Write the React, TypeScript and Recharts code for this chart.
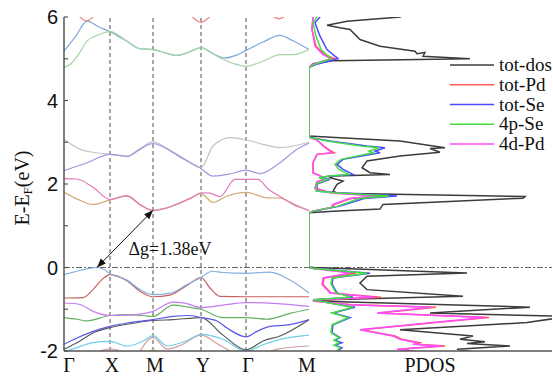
import React from "react";
import { LineChart, Line, XAxis, YAxis, ReferenceLine, ReferenceDot, Legend } from "recharts";

type Pt = [number, number];

// high-symmetry path (k in path-length units)
const kTicks = [0, 46, 89, 137, 182, 245];
const kLabels = ["Γ", "X", "M", "Y", "Γ", "M"];
const eTicks = [-2, -1, 0, 1, 2, 3, 4, 5, 6];
const eLabelTicks = [-2, 0, 2, 4, 6];
const gapVBM: Pt = [33, 0];
const gapCBM: Pt = [89, 1.37];
const gapText = "Δg=1.38eV";

// ---- band structure: [k, E] ----
const cbTopBlue: Pt[] = [[0,5.18],[12,5.55],[23,5.9],[35,5.76],[46,5.65],[63,5.42],[76,5.24],[89,5.22],[100,5.15],[113,5.08],[125,5.16],[137,5.27],[149,5.12],[161,5.02],[172,5.08],[182,5.2],[199,5.4],[216,5.56],[229,5.43],[245,5.22]];
const cbTopGreen: Pt[] = [[0,4.8],[7,4.88],[13,5.05],[23,5.42],[35,5.58],[46,5.65],[63,5.42],[76,5.24],[89,5.22],[100,5.15],[113,5.08],[125,5.16],[137,5.26],[156,5.02],[170,4.88],[182,4.82],[199,4.94],[216,5.1],[229,5.1],[245,5.22]];
const cbArc1: Pt[] = [[10,6.15],[16,6.0],[22,5.91],[28,5.98],[32,6.1]];
const cbArc2: Pt[] = [[124,6.12],[131,5.95],[137,5.87],[143,5.95],[150,6.12]];
const cbArc3: Pt[] = [[207,6.06],[211,5.99],[215,5.96],[219,5.99],[222,6.06]];
const cbGray: Pt[] = [[0,3.07],[16,2.83],[29,2.76],[46,2.71],[63,2.67],[76,2.85],[89,3.01],[102,2.87],[116,2.67],[137,2.39],[149,2.91],[166,3.11],[182,3.06],[199,2.95],[216,2.87],[245,3.0]];
const cbLav: Pt[] = [[0,2.32],[23,2.51],[46,2.71],[63,2.66],[76,2.83],[89,2.97],[102,2.85],[116,2.65],[137,2.37],[149,2.19],[166,2.24],[182,2.33],[196,2.25],[216,2.51],[233,2.83],[245,2.98]];
const cbPink: Pt[] = [[0,2.13],[13,2.12],[29,1.92],[46,1.63],[63,1.72],[76,1.51],[89,1.37],[101,1.42],[116,1.55],[128,1.68],[137,1.79],[146,1.78],[156,1.7],[171,2.11],[194,2.11],[204,1.88],[216,1.7],[229,1.51],[245,1.37]];
const cbTan: Pt[] = [[0,1.8],[15,1.62],[29,1.51],[46,1.62],[63,1.71],[76,1.5],[89,1.36],[101,1.41],[116,1.54],[128,1.67],[137,1.77],[149,1.56],[162,1.7],[182,1.8],[203,1.67],[216,1.66],[230,1.52],[245,1.36]];

const vb1: Pt[] = [[0,-0.17],[13,-0.09],[25,-0.02],[33,0.0],[40,-0.05],[46,-0.15],[63,-0.3],[76,-0.53],[89,-0.65],[106,-0.62],[123,-0.41],[137,-0.24],[148,-0.09],[159,-0.12],[182,-0.14],[206,-0.11],[226,-0.3],[245,-0.61]];
const vb2: Pt[] = [[0,-0.73],[19,-0.72],[29,-0.53],[38,-0.29],[46,-0.17],[63,-0.32],[76,-0.57],[89,-0.7],[106,-0.66],[123,-0.43],[137,-0.24],[146,-0.49],[156,-0.69],[182,-0.7],[245,-0.7]];
const vb3: Pt[] = [[0,-0.85],[15,-0.88],[29,-1.05],[46,-1.15],[65,-1.14],[89,-1.05],[109,-0.83],[122,-0.86],[137,-0.96],[159,-0.9],[182,-0.84],[210,-0.86],[245,-0.93]];
const vb4: Pt[] = [[0,-1.2],[13,-1.24],[23,-1.28],[46,-1.15],[65,-1.13],[89,-1.17],[109,-0.9],[125,-0.95],[137,-1.0],[159,-1.2],[182,-1.2],[203,-1.24],[226,-1.1],[245,-1.0]];
const vb5: Pt[] = [[0,-1.84],[13,-1.69],[29,-1.53],[46,-1.41],[63,-1.33],[89,-1.25],[109,-1.17],[126,-1.15],[137,-1.2],[153,-1.28],[163,-1.45],[182,-1.66],[193,-1.53],[206,-1.41],[226,-1.37],[245,-1.25]];
const vb6: Pt[] = [[0,-1.96],[16,-1.76],[29,-1.57],[46,-1.44],[63,-1.36],[89,-1.27],[109,-1.25],[137,-1.2],[159,-1.62],[182,-1.97],[199,-1.76],[216,-1.64],[245,-1.25]];
const vb7: Pt[] = [[0,-2.02],[15,-1.9],[29,-1.8],[46,-1.77],[63,-1.88],[80,-1.75],[89,-1.63],[103,-1.88],[123,-1.75],[137,-1.6],[159,-1.72],[182,-2.0],[199,-1.85],[216,-1.72],[245,-1.62]];
const vb8a: Pt[] = [[25,-2.12],[46,-1.95],[67,-2.12]];
const vb8b: Pt[] = [[75,-2.05],[89,-1.68],[103,-1.95],[118,-1.85],[137,-1.62],[155,-1.85],[170,-2.05]];
const vb8c: Pt[] = [[195,-2.1],[215,-1.95],[245,-1.88]];
const vb9: Pt[] = [[80,-2.06],[89,-1.98],[98,-2.06]];

const bands = [
  { id: "c1", color: "#7fa7d6", pts: cbTopBlue },
  { id: "c2", color: "#a3d6a3", pts: cbTopGreen },
  { id: "c3", color: "#f07a7a", pts: cbArc1 },
  { id: "c4", color: "#f07a7a", pts: cbArc2 },
  { id: "c5", color: "#f07a7a", pts: cbArc3 },
  { id: "c6", color: "#c2c2c2", pts: cbGray },
  { id: "c7", color: "#9a9ae0", pts: cbLav },
  { id: "c8", color: "#d4aa78", pts: cbTan },
  { id: "c9", color: "#e07ab8", pts: cbPink },
  { id: "v9", color: "#d8d070", pts: vb9 },
  { id: "v8a", color: "#d4a0a0", pts: vb8a },
  { id: "v8b", color: "#d4a0a0", pts: vb8b },
  { id: "v8c", color: "#d4a0a0", pts: vb8c },
  { id: "v7", color: "#6fcfe6", pts: vb7 },
  { id: "v6", color: "#5a5a5a", pts: vb6 },
  { id: "v5", color: "#5a5ae8", pts: vb5 },
  { id: "v4", color: "#60b060", pts: vb4 },
  { id: "v3", color: "#c47cf2", pts: vb3 },
  { id: "v2", color: "#c86060", pts: vb2 },
  { id: "v1", color: "#85b0e0", pts: vb1 },
];

// ---- PDOS: [E, dos] ----
const totDos: Pt[] = [[6.1,100],[6.0,91],[5.9,38],[5.8,18],[5.74,31],[5.7,41],[5.46,51],[5.3,71],[5.18,106],[5.12,108],[5.15,116],[5.06,114],[5.0,161],[4.95,24],[4.88,4],[4.79,0],[3.15,0],[3.11,31],[3.03,91],[2.87,136],[2.85,121],[2.76,131],[2.67,91],[2.55,58],[2.39,53],[2.27,61],[2.23,81],[2.19,24],[2.15,21],[2.07,34],[1.99,28],[1.83,24],[1.78,28],[1.7,216],[1.66,214],[1.51,74],[1.4,71],[1.35,24],[1.31,0],[0.01,0],[0.0,5],[-0.13,158],[-0.21,58],[-0.37,51],[-0.53,58],[-0.69,154],[-0.77,18],[-0.8,4],[-0.95,221],[-1.09,121],[-1.17,260],[-1.32,218],[-1.49,91],[-1.64,164],[-1.72,151],[-1.78,176],[-1.82,158],[-1.88,201],[-1.96,148],[-2.02,164]];
const totPd: Pt[] = [[6.1,5],[6.02,4],[5.7,3],[5.3,7],[5.1,16],[5.0,26],[4.87,4],[4.79,0],[3.12,0],[3.05,8],[2.99,11],[2.91,15],[2.79,22],[2.75,25],[2.71,8],[2.51,4],[2.27,4],[2.19,12],[2.11,15],[2.05,8],[1.9,6],[1.79,22],[1.71,72],[1.65,42],[1.51,25],[1.44,23],[1.35,4],[1.31,0],[0.0,0],[-0.02,3],[-0.13,47],[-0.25,15],[-0.41,14],[-0.61,22],[-0.71,72],[-0.77,8],[-0.8,4],[-0.89,43],[-0.95,127],[-1.09,70],[-1.2,180],[-1.32,127],[-1.49,52],[-1.64,86],[-1.72,93],[-1.8,111],[-1.84,106],[-1.88,136],[-1.96,90],[-2.02,111]];
const pd4d: Pt[] = [[6.1,4],[6.02,4],[5.7,3],[5.3,6],[5.1,14],[5.0,22],[4.87,4],[4.79,0],[3.12,0],[3.05,8],[2.99,11],[2.91,14],[2.79,21],[2.75,23],[2.71,8],[2.51,4],[2.27,4],[2.19,11],[2.11,14],[2.05,8],[1.9,6],[1.79,21],[1.71,66],[1.65,40],[1.51,24],[1.44,22],[1.35,4],[1.31,0],[0.0,0],[-0.02,3],[-0.13,41],[-0.25,14],[-0.41,13],[-0.61,21],[-0.71,66],[-0.77,8],[-0.8,4],[-0.89,41],[-0.95,122],[-1.09,68],[-1.2,176],[-1.32,124],[-1.49,51],[-1.64,84],[-1.72,91],[-1.8,108],[-1.84,104],[-1.88,132],[-1.96,88],[-2.02,108]];
const totSe: Pt[] = [[6.1,12],[6.0,11],[5.86,6],[5.54,11],[5.22,18],[5.0,29],[4.87,8],[4.79,0],[3.12,0],[3.03,21],[2.91,58],[2.87,76],[2.79,66],[2.75,71],[2.59,34],[2.47,28],[2.35,34],[2.23,44],[2.19,21],[2.15,11],[2.11,21],[2.0,8],[1.83,8],[1.79,28],[1.71,88],[1.65,55],[1.47,31],[1.35,4],[1.31,0],[0.0,0],[-0.02,3],[-0.14,61],[-0.25,24],[-0.4,23],[-0.61,28],[-0.71,44],[-0.77,4],[-0.85,21],[-0.95,46],[-1.09,24],[-1.2,41],[-1.37,24],[-1.56,23],[-1.68,31],[-1.74,26],[-1.8,33],[-1.86,26],[-1.92,33],[-2.02,28]];
const se4p: Pt[] = [[6.1,9],[6.0,8],[5.86,4],[5.54,7],[5.22,12],[5.0,22],[4.87,6],[4.79,0],[3.12,0],[3.03,18],[2.91,52],[2.87,70],[2.79,60],[2.75,64],[2.59,32],[2.47,26],[2.35,30],[2.23,40],[2.19,20],[2.15,10],[2.11,18],[2.0,7],[1.83,7],[1.79,26],[1.71,80],[1.65,50],[1.47,29],[1.35,4],[1.31,0],[0.0,0],[-0.02,3],[-0.14,58],[-0.25,23],[-0.4,22],[-0.61,27],[-0.71,42],[-0.77,4],[-0.85,20],[-0.95,44],[-1.09,23],[-1.2,39],[-1.37,23],[-1.56,22],[-1.68,30],[-1.74,25],[-1.8,30],[-1.86,25],[-1.92,31],[-2.02,27]];

const dosSeries = [
  { name: "tot-dos", color: "#3c3c3c", pts: totDos },
  { name: "tot-Pd", color: "#ff5a5a", pts: totPd },
  { name: "tot-Se", color: "#4a4aff", pts: totSe },
  { name: "4d-Pd", color: "#ff4cff", pts: pd4d },
  { name: "4p-Se", color: "#44dd44", pts: se4p },
];
const legendOrder = ["tot-dos", "tot-Pd", "tot-Se", "4p-Se", "4d-Pd"];

const AX = "#555";
const SERIF = "'Liberation Serif', 'Times New Roman', serif";
const SANS = "'Liberation Sans', Arial, sans-serif";

const LeftTick = (p: any) =>
  eLabelTicks.includes(p.payload.value) ? (
    <text x={p.x} y={p.y} dy={7} textAnchor="end" fontSize={20} fontFamily={SANS} fill="#111">
      {p.payload.value}
    </text>
  ) : (
    <g />
  );

const KTick = (p: any) => {
  const i = kTicks.indexOf(p.payload.value);
  const shift = i === 0 ? 5 : i === kTicks.length - 1 ? -2 : 2;
  return (
    <text x={p.x + shift} y={372} textAnchor="middle" fontSize={20} fontFamily={SERIF} fill="#111">
      {kLabels[i]}
    </text>
  );
};

const PdosTick = (p: any) => (
  <text x={p.x} y={372} textAnchor="middle" fontSize={20} fontFamily={SERIF} fill="#111">
    PDOS
  </text>
);

const Empty = () => <g />;

const ArrowShape = (p: any) => {
  const { x1, y1, x2, y2 } = p;
  const dx = x2 - x1, dy = y2 - y1;
  const L = Math.sqrt(dx * dx + dy * dy) || 1;
  const ux = dx / L, uy = dy / L;
  const h = 9, w = 3.5;
  const head = (tx: number, ty: number, s: number) =>
    `${tx},${ty} ${tx - s * ux * h - uy * w},${ty - s * uy * h + ux * w} ${tx - s * ux * h + uy * w},${ty - s * uy * h - ux * w}`;
  return (
    <g>
      <line x1={x1} y1={y1} x2={x2} y2={y2} stroke="#111" strokeWidth={1} />
      <polygon points={head(x2, y2, 1)} fill="#111" />
      <polygon points={head(x1, y1, -1)} fill="#111" />
    </g>
  );
};

const GapLabel = (p: any) => (
  <text x={p.cx} y={p.cy} textAnchor="middle" fontSize={18} fontFamily={SERIF} fill="#111">
    {gapText}
  </text>
);

const LegendBox = () => (
  <svg width={103} height={100}>
    {legendOrder.map((n, i) => {
      const s = dosSeries.find((d) => d.name === n)!;
      const y = 10 + i * 19.75;
      return (
        <g key={n}>
          <line x1={0} x2={44} y1={y} y2={y} stroke={s.color} strokeWidth={1.5} />
          <text x={49} y={y + 6} fontSize={19} fontFamily={SERIF} fill="#111">
            {n}
          </text>
        </g>
      );
    })}
  </svg>
);

export default function App() {
  return (
    <div style={{ position: "absolute", left: 0, top: 0, width: 553, height: 376, background: "#fff", overflow: "hidden" }}>
      <svg style={{ position: "absolute", left: 0, top: 0 }} width={60} height={376}>
        <text
          x={22}
          y={188}
          transform="rotate(-90 22 188)"
          textAnchor="middle"
          dominantBaseline="central"
          fontSize={20}
          fontFamily={SERIF}
          fill="#111"
        >
          E-E<tspan fontSize={13} dy={5}>F</tspan>
          <tspan dy={-5}>(eV)</tspan>
        </text>
      </svg>

      <div style={{ position: "absolute", left: 0, top: 0 }}>
        <LineChart width={330} height={376} margin={{ top: 17, right: 21, bottom: 0, left: 0 }}>
          <XAxis
            xAxisId="b"
            dataKey="k"
            type="number"
            domain={[0, 245]}
            ticks={kTicks}
            allowDataOverflow
            height={25}
            tickLine={false}
            tick={KTick}
            axisLine={{ stroke: AX, strokeWidth: 1.5 }}
          />
          <XAxis
            xAxisId="t"
            dataKey="k"
            orientation="top"
            type="number"
            domain={[0, 245]}
            allowDataOverflow
            height={0}
            tickLine={false}
            tick={false}
            axisLine={{ stroke: AX, strokeWidth: 1.5 }}
          />
          <YAxis
            yAxisId="l"
            type="number"
            domain={[-2, 6]}
            ticks={eTicks}
            allowDataOverflow
            width={64}
            tickSize={-4}
            tickMargin={10}
            tick={LeftTick}
            tickLine={{ stroke: AX, strokeWidth: 1.2 }}
            axisLine={{ stroke: AX, strokeWidth: 1.5 }}
          />
          <YAxis
            yAxisId="r"
            orientation="right"
            type="number"
            domain={[-2, 6]}
            ticks={eTicks}
            allowDataOverflow
            width={0}
            tickSize={4}
            tick={Empty}
            tickLine={{ stroke: AX, strokeWidth: 1.2 }}
            axisLine={{ stroke: AX, strokeWidth: 1.5 }}
          />
          {kTicks.slice(1, 5).map((k) => (
            <ReferenceLine key={k} x={k} xAxisId="b" yAxisId="l" stroke="#777" strokeWidth={1.3} strokeDasharray="4 3" />
          ))}
          <ReferenceLine y={0} xAxisId="b" yAxisId="l" stroke="#666" strokeWidth={1.2} strokeDasharray="6 2 2 2" />
          {bands.map((b) => (
            <Line
              key={b.id}
              xAxisId="b"
              yAxisId="l"
              data={b.pts.map(([k, e]) => ({ k, e }))}
              dataKey="e"
              type="monotone"
              stroke={b.color}
              strokeWidth={1.2}
              dot={false}
              activeDot={false}
              isAnimationActive={false}
            />
          ))}
          <ReferenceLine
            xAxisId="b"
            yAxisId="l"
            segment={[
              { x: gapVBM[0], y: gapVBM[1] },
              { x: gapCBM[0], y: gapCBM[1] },
            ]}
            shape={ArrowShape}
          />
          <ReferenceDot xAxisId="b" yAxisId="l" x={106} y={0.31} r={0} shape={GapLabel} />
        </LineChart>
      </div>

      <div style={{ position: "absolute", left: 309, top: 0 }}>
        <LineChart layout="vertical" width={244} height={376} margin={{ top: 17, right: 1, bottom: 0, left: 0 }}>
          <XAxis
            xAxisId="b"
            type="number"
            domain={[0, 243]}
            allowDataOverflow
            height={25}
            ticks={[121]}
            tickLine={false}
            tick={PdosTick}
            axisLine={{ stroke: AX, strokeWidth: 1.5 }}
          />
          <XAxis
            xAxisId="t"
            orientation="top"
            type="number"
            domain={[0, 243]}
            allowDataOverflow
            height={0}
            tickLine={false}
            tick={false}
            axisLine={{ stroke: AX, strokeWidth: 1.5 }}
          />
          <YAxis yAxisId="l" type="number" dataKey="e" domain={[-2, 6]} allowDataOverflow reversed hide />
          <ReferenceLine y={0} xAxisId="b" yAxisId="l" stroke="#666" strokeWidth={1.2} strokeDasharray="6 2 2 2" />
          {dosSeries.map((s) => (
            <Line
              key={s.name}
              name={s.name}
              xAxisId="b"
              yAxisId="l"
              data={s.pts.map(([e, v]) => ({ e, v }))}
              dataKey="v"
              type="linear"
              stroke={s.color}
              strokeWidth={1.5}
              dot={false}
              activeDot={false}
              isAnimationActive={false}
            />
          ))}
          <Legend
            layout="vertical"
            align="center"
            verticalAlign="middle"
            wrapperStyle={{ left: 141, top: 55, width: 103 }}
            content={LegendBox}
          />
        </LineChart>
      </div>
    </div>
  );
}
